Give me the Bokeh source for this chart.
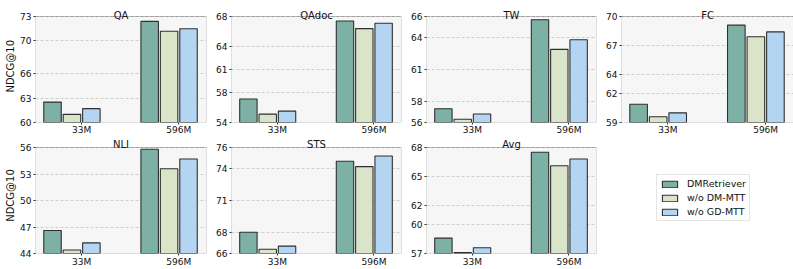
import math
from bokeh.plotting import figure
from bokeh.models import (Range1d, FixedTicker, Label, Legend, LegendItem,
                          ColumnDataSource, BoxAnnotation)
from bokeh.layouts import row, column
from bokeh.embed import file_html
from bokeh.resources import INLINE

# ---------------- data ----------------
sizes = ["33M", "596M"]
tasks = ["QA", "QAdoc", "TW", "FC", "NLI", "STS", "Avg"]
series_names = ["DMRetriever", "w/o DM-MTT", "w/o GD-MTT"]

dmr_33m = [62.5, 57.1, 57.3, 60.9, 46.6, 68.0, 58.6]
dmr_596m = [72.4, 67.4, 65.7, 69.1, 55.8, 74.7, 67.5]
dm_mtt_33m = [61.0, 55.1, 56.3, 59.6, 44.4, 66.4, 57.1]
dm_mtt_596m = [71.2, 66.4, 62.9, 67.9, 53.6, 74.2, 66.1]
gd_mtt_33m = [61.7, 55.5, 56.8, 60.0, 45.2, 66.7, 57.6]
gd_mtt_596m = [71.5, 67.1, 63.8, 68.4, 54.7, 75.2, 66.8]

y_ticks = [
    [60, 63, 66, 70, 73],
    [54, 58, 61, 64, 68],
    [56, 58, 61, 64, 66],
    [59, 62, 64, 67, 70],
    [44, 47, 50, 53, 56],
    [66, 68, 71, 74, 76],
    [57, 60, 62, 65, 68],
]
y_label = "NDCG@10"

# ---------------- style ----------------
colors = ["#7db1a6", "#d9e4c9", "#b4d5f1"]
edge = "#2f2f2f"
FONT = "DejaVu Sans"
offsets = [-0.3, -0.1, 0.1]
bar_w = 0.18
x_lo, x_hi = -0.475, 1.285

series_33 = [dmr_33m, dm_mtt_33m, gd_mtt_33m]
series_596 = [dmr_596m, dm_mtt_596m, gd_mtt_596m]

YLAB_W = 17
# column geometry: (min_border_left, frame_width, min_border_right)
col_geom = [(15, 171, 7), (18, 170, 7), (18, 170, 7), (17, 172, 4)]
# row geometry: (title_px, plot_px, min_border_bottom, label_standoff,
#                title_baseline_px, ylabel_center_from_bottom)
row_geom = [(16, 106, 13, 0, 1, 61), (10, 106, 18, 1, 3, 67)]


def make_ylabel(r):
    tp, ph, bb, so, tb, yc = row_geom[r]
    h = tp + ph + bb
    f = figure(width=YLAB_W, height=h, x_range=Range1d(0, YLAB_W),
               y_range=Range1d(0, h), x_axis_location=None,
               y_axis_location=None, min_border=0, toolbar_location=None,
               output_backend="svg")
    f.outline_line_color = None
    f.xgrid.visible = False
    f.ygrid.visible = False
    f.add_layout(Label(x=9.5, y=yc, angle=math.pi / 2, text=y_label,
                       text_align="center", text_baseline="middle",
                       text_font=FONT, text_font_size="10px",
                       text_color="#111111"))
    return f


def make_panel(k):
    r, c = divmod(k, 4)
    bl, fw, br = col_geom[c]
    tp, ph, bb, so, tb, _ = row_geom[r]
    ticks = y_ticks[k]
    y0, y1 = ticks[0], ticks[-1]
    y_top = y1 + (y1 - y0) * tp / ph
    p = figure(frame_width=fw, frame_height=ph + tp,
               min_border_left=bl, min_border_right=br,
               min_border_top=0, min_border_bottom=bb,
               x_range=Range1d(x_lo, x_hi), y_range=Range1d(y0, y_top),
               toolbar_location=None, output_backend="svg")
    p.background_fill_color = "white"
    p.border_fill_color = "white"
    p.outline_line_color = None
    p.add_layout(BoxAnnotation(left=x_lo, right=x_hi, bottom=y0, top=y1,
                               fill_color="#f6f6f6", fill_alpha=1.0,
                               line_color=None, level="image"))
    for s in range(3):
        src = ColumnDataSource(dict(
            x=[0 + offsets[s], 1 + offsets[s]],
            top=[series_33[s][k], series_596[s][k]],
        ))
        p.vbar(x="x", top="top", bottom=y0, width=bar_w, source=src,
               fill_color=colors[s], line_color=edge, line_width=1.1)
    p.add_layout(BoxAnnotation(left=x_lo, right=x_hi, bottom=y0, top=y1,
                               fill_alpha=0.0, line_color=edge, line_width=1,
                               level="overlay"))
    p.xaxis.ticker = FixedTicker(ticks=[0, 1])
    p.xaxis.major_label_overrides = {0: sizes[0], 1: sizes[1]}
    p.yaxis.ticker = FixedTicker(ticks=ticks)
    for ax in (p.xaxis[0], p.yaxis[0]):
        ax.major_label_text_font = FONT
        ax.major_label_text_font_size = "9px"
        ax.major_label_text_color = "#111111"
        ax.major_tick_out = 2
        ax.major_tick_in = 0
        ax.minor_tick_line_color = None
        ax.axis_line_color = None
        ax.major_tick_line_color = edge
    p.xaxis.major_label_standoff = so
    p.yaxis.major_label_standoff = 2
    p.xgrid.visible = False
    p.ygrid.grid_line_color = "#c4c4c4"
    p.ygrid.grid_line_dash = "3 2"
    p.ygrid.grid_line_width = 0.8
    p.add_layout(Label(x=(x_lo + x_hi) / 2, y=y1, y_offset=tb,
                       text=tasks[k], text_align="center",
                       text_baseline="alphabetic", text_font=FONT,
                       text_font_size="10px", text_color="#111111"))
    return p


panels = [make_panel(k) for k in range(7)]

# legend panel
lg_h = row_geom[1][0] + row_geom[1][1] + row_geom[1][2]
lg = figure(width=193, height=lg_h, x_range=Range1d(0, 1), y_range=Range1d(0, 1),
            x_axis_location=None, y_axis_location=None,
            min_border=0, toolbar_location=None, output_backend="svg")
lg.outline_line_color = None
lg.xgrid.visible = False
lg.ygrid.visible = False
items = []
nan = float("nan")
for s in range(3):
    rr = lg.vbar(x=[nan], top=[nan], bottom=nan, width=0.1,
                 fill_color=colors[s], line_color=edge, line_width=1.1)
    items.append(LegendItem(label=series_names[s], renderers=[rr]))
legend = Legend(items=items, location=(53, 32))
legend.label_text_font = FONT
legend.label_text_font_size = "9.5px"
legend.label_text_color = "#111111"
legend.glyph_width = 19
legend.glyph_height = 8
legend.label_height = 11
legend.label_standoff = 8
legend.padding = 3
legend.spacing = 3
legend.margin = 0
legend.border_line_color = "#cccccc"
legend.border_line_width = 1
legend.background_fill_color = "white"
lg.add_layout(legend)

layout = column(row(make_ylabel(0), *panels[:4]),
                row(make_ylabel(1), *panels[4:], lg))

open("out.html", "w").write(file_html(layout, INLINE))
